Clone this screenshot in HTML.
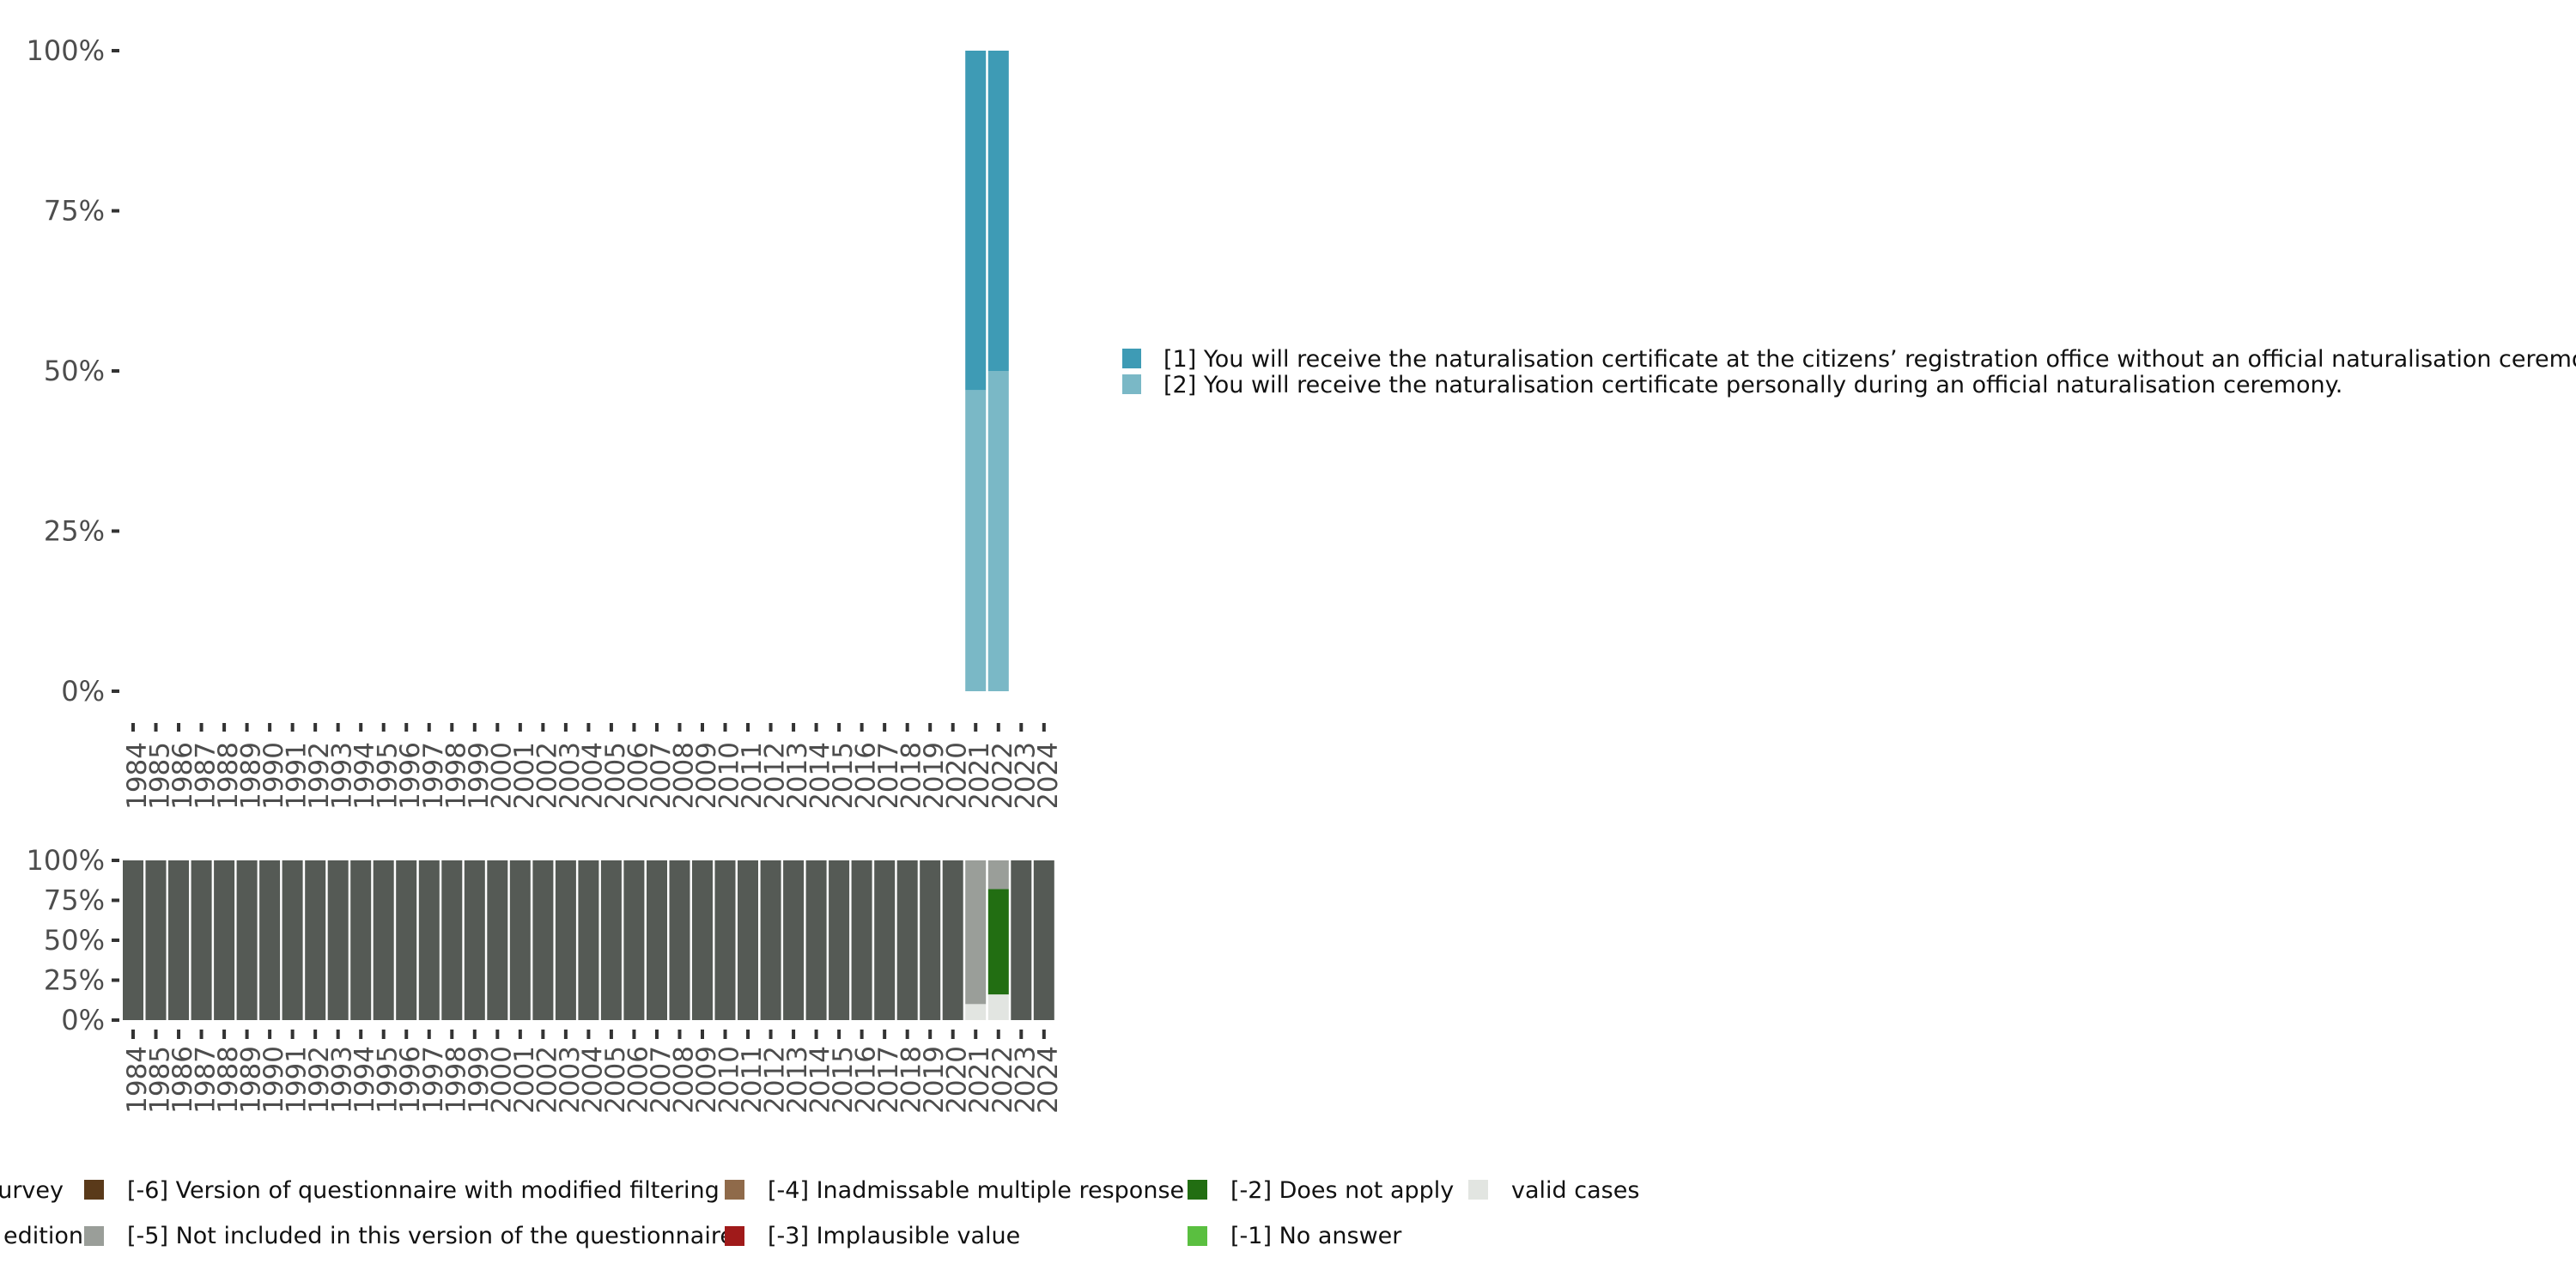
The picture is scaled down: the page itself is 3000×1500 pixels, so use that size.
<!DOCTYPE html>
<html><head><meta charset="utf-8"><style>
html,body{margin:0;padding:0;background:#fff;width:3000px;height:1500px;overflow:hidden}
svg{display:block;font-family:"DejaVu Sans","Liberation Sans",sans-serif}
</style></head><body>
<svg id="s" width="3000" height="1500" viewBox="0 0 3000 1500" xmlns="http://www.w3.org/2000/svg">
<defs><clipPath id="ct"><rect x="0" y="840" width="1300" height="100"/></clipPath></defs>
<g id="g"></g>
<rect x="1307" y="406" width="22" height="23" fill="#3e9bb5"/>
<rect x="1307" y="436" width="22" height="23" fill="#7ab8c6"/>
<text x="1355" y="427" font-size="27" fill="#111">[1] You will receive the naturalisation certificate at the citizens’ registration office without an official naturalisation ceremony.</text>
<text x="1355" y="457" font-size="27" fill="#111">[2] You will receive the naturalisation certificate personally during an official naturalisation ceremony.</text>
<g font-size="27" fill="#111">
<text x="74" y="1395" text-anchor="end">urvey</text>
<text x="97" y="1448" text-anchor="end">edition</text>
<rect x="98" y="1374" width="23" height="23" fill="#5a3a1a"/>
<rect x="98" y="1428" width="23" height="23" fill="#9a9e99"/>
<text x="148" y="1395">[-6] Version of questionnaire with modified filtering</text>
<text x="148" y="1448">[-5] Not included in this version of the questionnaire</text>
<rect x="844" y="1374" width="23" height="23" fill="#8f6a4a"/>
<rect x="844" y="1428" width="23" height="23" fill="#a01a1a"/>
<text x="894" y="1395">[-4] Inadmissable multiple response</text>
<text x="894" y="1448">[-3] Implausible value</text>
<rect x="1383" y="1374" width="23" height="23" fill="#226e12"/>
<rect x="1383" y="1428" width="23" height="23" fill="#5abf40"/>
<text x="1433" y="1395">[-2] Does not apply</text>
<text x="1433" y="1448">[-1] No answer</text>
<rect x="1710" y="1374" width="23" height="23" fill="#e2e5e1"/>
<text x="1760" y="1395">valid cases</text>
</g>
</svg>
<script>
var g=document.getElementById('g'),h='';
function yt(top,bot,labs){var st=(bot-top)/4;for(var i=0;i<5;i++){var y=bot-st*i;h+='<text x="122" y="'+(y+11)+'" font-size="32" fill="#4d4d4d" text-anchor="end">'+labs[i]+'</text><rect x="130" y="'+(y-2)+'" width="9" height="4" fill="#333"/>';}}
yt(59,805,['0%','25%','50%','75%','100%']);
yt(1002,1188,['0%','25%','50%','75%','100%']);
var x0=143,st=26.52,w=24;
function bar(i,y1,y2,c){h+='<rect x="'+(x0+st*i).toFixed(1)+'" y="'+y1+'" width="'+w+'" height="'+(y2-y1)+'" fill="'+c+'"/>';}
var T=59,B=805,H=B-T;
bar(37,T,B-H*0.47,'#3e9bb5');bar(37,B-H*0.47,B,'#7ab8c6');
bar(38,T,B-H*0.5,'#3e9bb5');bar(38,B-H*0.5,B,'#7ab8c6');
var T2=1002,B2=1188,H2=B2-T2;
for(var i=0;i<41;i++){
 if(i==37){bar(i,T2,B2-H2*0.1,'#9a9e99');bar(i,B2-H2*0.1,B2,'#e2e5e1');}
 else if(i==38){bar(i,T2,B2-H2*0.82,'#9a9e99');bar(i,B2-H2*0.82,B2-H2*0.16,'#226e12');bar(i,B2-H2*0.16,B2,'#e2e5e1');}
 else bar(i,T2,B2,'#555a55');
 var cx=x0+st*i+w/2;
 h+='<rect x="'+(cx-2)+'" y="842" width="4" height="10" fill="#333"/>';
 h+='<rect x="'+(cx-2)+'" y="1199" width="4" height="11" fill="#333"/>';
 var yr=1984+i;
 h+='<g clip-path="url(#ct)"><text transform="translate('+(cx+15)+',864) rotate(-90)" font-size="31" fill="#4d4d4d" text-anchor="end">'+yr+'</text></g>';
 h+='<text transform="translate('+(cx+15)+',1218) rotate(-90)" font-size="31" fill="#4d4d4d" text-anchor="end">'+yr+'</text>';
}
g.innerHTML=h;
</script>
</body></html>
